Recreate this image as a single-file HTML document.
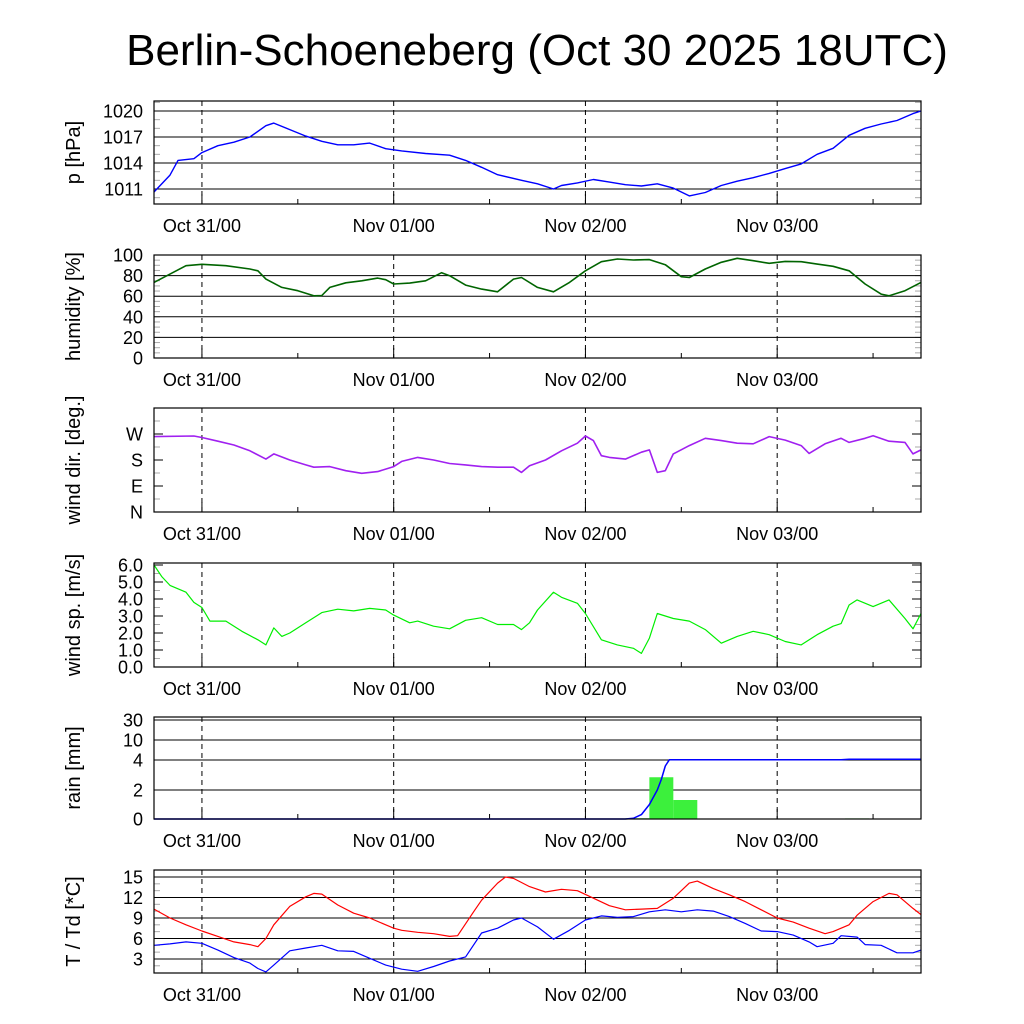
<!DOCTYPE html>
<html><head><meta charset="utf-8"><style>
body{margin:0;background:#fff}
svg{display:block;font-family:"Liberation Sans",sans-serif}
</style></head><body>
<svg id="c" width="1024" height="1024" viewBox="0 0 1024 1024">
<text x="537" y="65" font-size="44" text-anchor="middle">Berlin-Schoeneberg (Oct 30 2025 18UTC)</text>
</svg>
<script>
// ---- data (hours since Oct 30 18UTC) ----
const dayHours=[6,30,54,78];
const dayLabels=["Oct 31/00","Nov 01/00","Nov 02/00","Nov 03/00"];
const pH=[0,2,3,5,6,8,10,12,14,15,17,19,21,23,25,27,29,31,34,37,39,41,43,46,48,50,51,53,55,57,59,61,63,65,67,69,71,73,75,77,79,81,83,85,87,89,91,93,95,96];
const pV=[1010.65,1012.6,1014.3,1014.5,1015.2,1016.0,1016.4,1017.0,1018.3,1018.6,1017.85,1017.1,1016.5,1016.1,1016.1,1016.3,1015.65,1015.4,1015.1,1014.9,1014.3,1013.5,1012.65,1012.0,1011.6,1011.0,1011.4,1011.7,1012.1,1011.8,1011.5,1011.35,1011.6,1011.1,1010.2,1010.6,1011.4,1011.9,1012.3,1012.8,1013.35,1013.9,1015.0,1015.7,1017.2,1018.0,1018.5,1018.9,1019.7,1020.0];
const rhH=[0,2,4,6,9,12,13,14,16,18,20,21,22,24,26,28,29,30,32,34,36,37,39,41,43,45,46,48,50,52,54,56,58,60,62,64,66,67,69,71,73,75,77,79,81,83,85,87,89,91,92,94,96];
const rhV=[73.4,81.5,89.6,91,89.6,86.4,84.7,76.6,68.5,65.3,60.4,60.7,68.5,73,75,77.6,76,71.8,72.7,75,82.8,79.9,70.8,66.9,64.3,76.6,78.2,68.5,64.3,73.4,84.7,93.5,96.1,95.1,95.5,90.6,78.9,78.2,86.4,92.9,96.8,94.5,91.9,93.8,93.5,91.2,89,84.7,71.8,62,60.4,65.3,73.4];
const ddH=[0,5,6,8,10,12,14,15,17,19,20,22,24,26,28,30,31,33,35,37,39,41,43,45,46,47,49,51,53,54,55,56,57,59,61,62,63,64,65,67,69,71,73,75,77,79,81,82,84,86,87,89,90,92,94,95,96];
const ddV=[261,263,258,245,232,212,183,201,180,163,155,157,143,134,140,157,175,189,180,168,163,157,155,155,137,160,180,212,238,263,247,195,189,183,207,215,137,143,201,230,255,247,238,236,261,249,230,203,236,255,241,255,264,245,241,201,215];
const ffH=[0,1,2,4,5,6,7,9,11,13,14,15,16,17,19,21,23,25,27,29,30,32,33,35,37,39,41,43,45,46,47,48,50,51,53,54,56,58,60,61,62,63,65,67,69,71,73,75,77,79,81,83,85,86,87,88,90,92,94,95,96];
const ffV=[6.0,5.3,4.8,4.4,3.8,3.5,2.7,2.7,2.1,1.6,1.3,2.3,1.8,2.0,2.6,3.2,3.4,3.3,3.45,3.35,3.05,2.6,2.7,2.4,2.25,2.75,2.9,2.5,2.5,2.2,2.6,3.35,4.4,4.1,3.75,3.15,1.6,1.3,1.1,0.8,1.7,3.15,2.85,2.7,2.2,1.4,1.8,2.1,1.9,1.5,1.3,1.9,2.4,2.55,3.65,3.95,3.55,3.95,2.85,2.25,3.15];
const rainBarStart=[59,62,65,86.5];
const rainBarV=[0.05,2.85,1.31,0.04];
const rainCumH=[0,59,60,61,62,63,63.5,64,64.5,65,86,87,96];
const rainCumV=[0,0,0.05,0.3,1.0,2.0,2.7,3.6,4.05,4.1,4.1,4.2,4.2];
const tH=[0,2,4,6,8,10,12,13,14,15,17,19,20,21,23,25,27,29,30,31,33,35,37,38,40,41,43,44,45,47,49,51,53,55,57,59,61,63,65,67,68,70,72,74,76,78,80,82,84,85,87,88,90,92,93,95,96];
const tV=[10.3,9.0,8.0,7.1,6.3,5.5,5.1,4.8,6.0,8.0,10.7,12.1,12.6,12.5,10.9,9.7,9.0,8.0,7.5,7.2,6.9,6.7,6.3,6.4,9.9,11.6,14.1,15.0,14.8,13.6,12.8,13.2,13.0,11.9,10.8,10.2,10.3,10.4,11.9,14.1,14.4,13.3,12.4,11.4,10.2,9.0,8.4,7.5,6.7,7.0,8.0,9.4,11.4,12.6,12.4,10.4,9.5];
const tdH=[0,2,4,6,8,10,12,13,14,15,17,19,21,23,25,27,29,31,33,35,37,39,41,43,45,46,48,50,52,54,56,58,60,62,64,66,68,70,72,74,76,78,80,82,83,85,86,88,89,91,93,95,96];
const tdV=[5.0,5.2,5.5,5.3,4.3,3.2,2.4,1.6,1.1,2.1,4.2,4.6,5.0,4.2,4.1,3.1,2.1,1.5,1.2,1.9,2.7,3.3,6.8,7.5,8.7,9.0,7.7,5.9,7.2,8.7,9.3,9.1,9.2,9.9,10.2,9.9,10.2,10.0,9.2,8.2,7.1,7.0,6.5,5.5,4.8,5.3,6.4,6.2,5.1,5.0,3.9,3.9,4.3];
const pTicks=[1011,1014,1017,1020], rhTicks=[0,20,40,60,80,100], ddTicks=[0,90,180,270], ddLabels=["N","E","S","W"];
const ffTicks=[0,1,2,3,4,5,6], rainTicks=[0,2,4,10,30], tTicks=[3,6,9,12,15];

// ---- layout ----
const NS="http://www.w3.org/2000/svg", svg=document.getElementById('c');
const X0=154,X1=921,HRS=96;
const xs=h=>X0+h*(X1-X0)/HRS;
function el(t,a,p){const e=document.createElementNS(NS,t);for(const k in a)e.setAttribute(k,a[k]);(p||svg).appendChild(e);return e;}
const rainK=[0,2,4,10,30],rainY=[819,790,760,740,720];
function rainScale(v){for(let i=1;i<rainK.length;i++){if(v<=rainK[i]){const f=(v-rainK[i-1])/(rainK[i]-rainK[i-1]);return rainY[i-1]+f*(rainY[i]-rainY[i-1]);}}return 720;}
const panels=[
 {name:"pressure",top:101,bot:204,title:"p [hPa]",ys:v=>111+(1020-v)*8.667,ticks:pTicks,labels:pTicks.map(String),grid:true,minor:1},
 {name:"humidity",top:255,bot:358,title:"humidity [%]",ys:v=>358-v*1.03,ticks:rhTicks,labels:rhTicks.map(String),grid:true,minor:5},
 {name:"wind-direction",top:408,bot:512,title:"wind dir. [deg.]",ys:v=>512-v*104/360,ticks:ddTicks,labels:ddLabels,grid:false,minor:45},
 {name:"wind-speed",top:563,bot:667,title:"wind sp. [m/s]",ys:v=>667-v*17,ticks:ffTicks,labels:ffTicks.map(v=>v.toFixed(1)),grid:false,minor:0.5},
 {name:"rain",top:717,bot:819,title:"rain [mm]",ys:rainScale,ticks:rainTicks,labels:rainTicks.map(String),grid:true,minor:0},
 {name:"temperature",top:870,bot:973,title:"T / Td [*C]",ys:v=>877+(15-v)*6.83,ticks:tTicks,labels:tTicks.map(String),grid:true,minor:1}
];
panels.forEach(P=>{
 const g=el('g',{});
 
 
 if(P.minor){
  const vals=[];
  let v0=P.ticks[0]-P.minor*40;
  for(let v=v0;v<=P.ticks[P.ticks.length-1]+P.minor*40;v+=P.minor){const y=P.ys(v);if(y>P.top+1&&y<P.bot-1)vals.push(y);}
  vals.forEach(y=>{el('line',{x1:X0,x2:X0+6,y1:y,y2:y,stroke:'#aaa','stroke-width':1},g);el('line',{x1:X1-6,x2:X1,y1:y,y2:y,stroke:'#aaa','stroke-width':1},g);});
 }
 P.ticks.forEach((v,i)=>{
  const y=P.ys(v);
  if(P.grid) el('line',{x1:X0,x2:X1,y1:y,y2:y,stroke:'#000','stroke-width':1},g);
  else {el('line',{x1:X0,x2:X0+9,y1:y,y2:y,stroke:'#000'},g);el('line',{x1:X1-9,x2:X1,y1:y,y2:y,stroke:'#000'},g);}
  const t=el('text',{x:143,y:y+6.5,'font-size':18,'text-anchor':'end'},g);
  t.textContent=P.labels[i];
  
  
 });
 dayHours.forEach((h,i)=>{
  const x=xs(h);
  el('line',{x1:x,x2:x,y1:P.top,y2:P.bot,stroke:'#000','stroke-dasharray':'5,4'},g);
  el('line',{x1:x,x2:x,y1:P.bot-10,y2:P.bot,stroke:'#000'},g);
  const t=el('text',{x:x,y:P.bot+28,'font-size':18,'text-anchor':'middle'},g);
  t.textContent=dayLabels[i];
  
  
 });
 [18,42,66,90].forEach(h=>el('line',{x1:xs(h),x2:xs(h),y1:P.bot-5,y2:P.bot,stroke:'#000'},g));
 const yt=el('text',{transform:`translate(80,${(P.top+P.bot)/2}) rotate(-90)`,'font-size':20,'text-anchor':'middle'},g);
 yt.textContent=P.title;
 
 
 P.g=g;
});
function line(P,H,V,color,name,w){
 const d=H.map((h,i)=>(i?'L':'M')+xs(h).toFixed(1)+','+P.ys(V[i]).toFixed(1)).join('');
 const p=el('path',{d:d,fill:'none',stroke:color,'stroke-width':w||1.4,'stroke-linejoin':'round'},P.g);
 
 
}
line(panels[0],pH,pV,'#0000ff','pressure-line');
line(panels[1],rhH,rhV,'#006400','humidity-line',1.6);
line(panels[2],ddH,ddV,'#a020f0','wind-direction-line',1.6);
line(panels[3],ffH,ffV,'#00ee00','wind-speed-line',1.2);
rainBarStart.forEach((h,i)=>{
 const P=panels[4],y=P.ys(rainBarV[i]);
 const r=el('rect',{x:xs(h),y:y,width:xs(h+3)-xs(h),height:P.ys(0)-y,fill:'#3cf03c'},P.g);
 
 
});
line(panels[4],rainCumH,rainCumV,'#0000ff','rain-cumulative-line',1.5);
line(panels[5],tH,tV,'#ff0000','temperature-line',1.2);
line(panels[5],tdH,tdV,'#0000ff','dewpoint-line',1.2);
panels.forEach(P=>{
 const r=el('rect',{x:X0,y:P.top,width:X1-X0,height:P.bot-P.top,fill:'none',stroke:'#000','stroke-width':1.2},P.g);
 
 
});
</script>
</body></html>
